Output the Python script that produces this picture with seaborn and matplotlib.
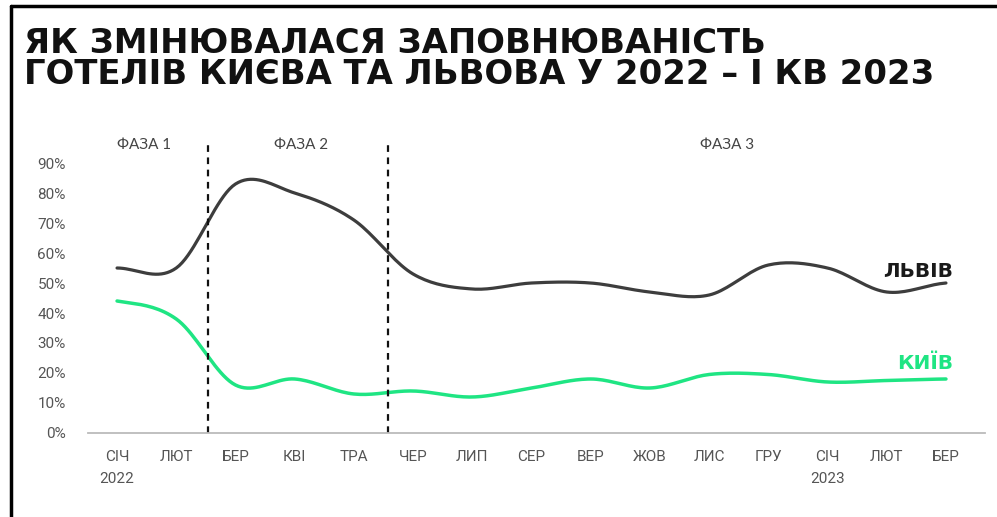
import numpy as np
import matplotlib
matplotlib.use("Agg")
import matplotlib.pyplot as plt
import seaborn as sns

# monthly occupancy, %
months = ["СІЧ\n2022", "ЛЮТ", "БЕР", "КВІ", "ТРА", "ЧЕР", "ЛИП", "СЕР",
          "ВЕР", "ЖОВ", "ЛИС", "ГРУ", "СІЧ\n2023", "ЛЮТ", "БЕР"]
lviv = [55, 55, 83, 80, 71, 53, 48, 50, 50, 47, 46, 56, 55, 47, 50]
kyiv = [44, 38, 16, 18, 13, 14, 12, 15, 18, 15, 19.5, 19.5, 17, 17.5, 18]
phase_breaks = [1.53, 4.58]
phase_names = ["ФАЗА 1", "ФАЗА 2", "ФАЗА 3"]
phase_pos = [0.45, 3.1, 10.3]
yticks = [0, 10, 20, 30, 40, 50, 60, 70, 80, 90]

GREEN = "#1fe583"
DARK = "#3d3d3d"


def smooth(ys, n=20):
    # catmull-rom rendering of the monthly points
    ys = np.asarray(ys, dtype=float)
    p = np.concatenate([[ys[0]], ys, [ys[-1]]])
    xs_out, ys_out = [], []
    for i in range(len(ys) - 1):
        p0, p1, p2, p3 = p[i], p[i + 1], p[i + 2], p[i + 3]
        t = np.linspace(0, 1, n, endpoint=False)
        y = 0.5 * (2 * p1 + (-p0 + p2) * t + (2 * p0 - 5 * p1 + 4 * p2 - p3) * t ** 2
                   + (-p0 + 3 * p1 - 3 * p2 + p3) * t ** 3)
        xs_out.extend(i + t)
        ys_out.extend(y)
    xs_out.append(len(ys) - 1)
    ys_out.append(ys[-1])
    return np.array(xs_out), np.array(ys_out)


sns.set_style("white")
plt.rcParams["font.family"] = ["Roboto", "DejaVu Sans"]

fig = plt.figure(figsize=(9.97, 5.17), dpi=100)
ax = fig.add_axes([0.0883, 0.1625, 0.8997, 0.5802])

x, y = smooth(lviv)
sns.lineplot(x=x, y=y, color=DARK, linewidth=2.3, ax=ax)
x, y = smooth(kyiv)
sns.lineplot(x=x, y=y, color=GREEN, linewidth=2.5, ax=ax)

for b in phase_breaks:
    ax.axvline(b, ymin=0, ymax=0.97, color="#111111", linestyle=(0, (3, 2.5)), linewidth=1.6)
for name, px in zip(phase_names, phase_pos):
    ax.text(px, 96, name, ha="center", va="center", fontsize=11,
            color="#444444", family=["Lato", "DejaVu Sans"])

ax.text(14.12, 54, "ЛЬВІВ", ha="right", va="center", fontsize=14.5,
        fontweight="bold", color="#1a1a1a", family="DejaVu Sans")
ax.text(14.12, 23, "КИЇВ", ha="right", va="center", fontsize=14.5,
        fontweight="bold", color=GREEN, family="DejaVu Sans")

ax.set_xlim(-0.49, 14.66)
ax.set_ylim(0, 100)
ax.set_xticks(range(len(months)))
ax.set_xticklabels(months, fontsize=11, color="#555555", linespacing=1.75)
ax.set_yticks(yticks)
ax.set_yticklabels([f"{v}%" for v in yticks], fontsize=11, color="#555555")
ax.tick_params(axis="x", length=0, pad=12)
ax.tick_params(axis="y", length=0, pad=16)
for s in ["top", "right", "left"]:
    ax.spines[s].set_visible(False)
ax.spines["bottom"].set_color("#bbbbbb")
ax.spines["bottom"].set_linewidth(1.3)
ax.set_xlabel("")
ax.set_ylabel("")

fig.text(0.024, 0.948, "ЯК ЗМІНЮВАЛАСЯ ЗАПОВНЮВАНІСТЬ\nГОТЕЛІВ КИЄВА ТА ЛЬВОВА У 2022 – І КВ 2023",
         ha="left", va="top", fontsize=24.4, fontweight="bold", color="#111111",
         family="DejaVu Sans", linespacing=0.94)

# frame: top and left edges
fig.add_artist(plt.Line2D([0.011, 1.0], [0.989, 0.989], color="black", linewidth=2.5,
                          transform=fig.transFigure))
fig.add_artist(plt.Line2D([0.011, 0.011], [0.0, 0.989], color="black", linewidth=2.5,
                          transform=fig.transFigure))

fig.savefig("out.png", dpi=100)
